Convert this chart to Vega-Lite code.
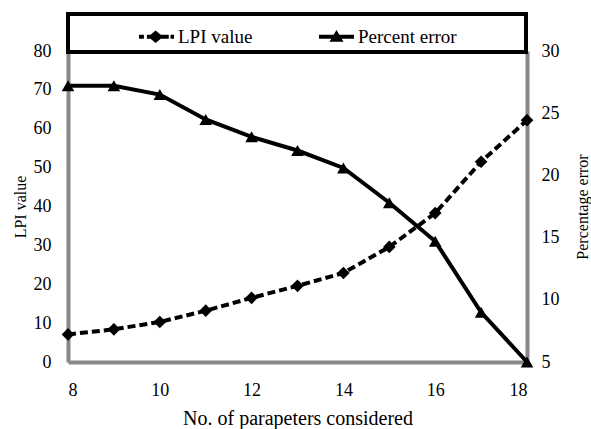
{
  "$schema": "https://vega.github.io/schema/vega-lite/v6.json",
  "width": 459,
  "height": 311,
  "autosize": {"type": "none"},
  "padding": {"left": 68, "top": 51, "right": 64, "bottom": 67},
  "background": "white",
  "config": {
    "view": {"stroke": null},
    "font": "Liberation Serif",
    "axis": {
      "grid": false,
      "ticks": false,
      "domainColor": "#888888",
      "domainWidth": 4,
      "labelFont": "Liberation Serif",
      "labelFontSize": 18,
      "labelColor": "black",
      "titleFont": "Liberation Serif",
      "titleFontWeight": "normal",
      "titleFontSize": 16,
      "titleColor": "black"
    }
  },
  "data": {
    "values": [
      {"n": 8, "series": "LPI value", "value": 7.1},
      {"n": 9, "series": "LPI value", "value": 8.4},
      {"n": 10, "series": "LPI value", "value": 10.3},
      {"n": 11, "series": "LPI value", "value": 13.2},
      {"n": 12, "series": "LPI value", "value": 16.5},
      {"n": 13, "series": "LPI value", "value": 19.6},
      {"n": 14, "series": "LPI value", "value": 22.9},
      {"n": 15, "series": "LPI value", "value": 29.6},
      {"n": 16, "series": "LPI value", "value": 38.3},
      {"n": 17, "series": "LPI value", "value": 51.5},
      {"n": 18, "series": "LPI value", "value": 62.2},
      {"n": 8, "series": "Percent error", "value": 27.2},
      {"n": 9, "series": "Percent error", "value": 27.2},
      {"n": 10, "series": "Percent error", "value": 26.5},
      {"n": 11, "series": "Percent error", "value": 24.5},
      {"n": 12, "series": "Percent error", "value": 23.1},
      {"n": 13, "series": "Percent error", "value": 22.0},
      {"n": 14, "series": "Percent error", "value": 20.6},
      {"n": 15, "series": "Percent error", "value": 17.8},
      {"n": 16, "series": "Percent error", "value": 14.7},
      {"n": 17, "series": "Percent error", "value": 9.0},
      {"n": 18, "series": "Percent error", "value": 5.0}
    ]
  },
  "encoding": {
    "x": {
      "field": "n",
      "type": "quantitative",
      "scale": {"domain": [8, 18], "nice": false, "zero": false},
      "axis": {
        "values": [8, 10, 12, 14, 16, 18],
        "title": "No. of parapeters considered",
        "titleFont": "Liberation Serif",
        "titleFontSize": 20,
        "labelFont": "Liberation Serif",
        "labelFontSize": 18,
        "labelPadding": 19,
        "titlePadding": 9,
        "labelAngle": 0
      }
    },
    "color": {
      "field": "series",
      "type": "nominal",
      "scale": {"domain": ["LPI value", "Percent error"], "range": ["black", "black"]},
      "legend": {
        "title": "\u00a0",
        "titleOrient": "right",
        "titlePadding": 64,
        "titleFontSize": 10,
        "orient": "none",
        "direction": "horizontal",
        "legendX": 0,
        "legendY": -37,
        "padding": 5,
        "strokeColor": "black",
        "fillColor": "white",
        "symbolSize": 1225,
        "symbolOffset": 66,
        "labelOffset": 4,
        "columnPadding": 0,
        "labelFont": "Liberation Serif",
        "labelFontSize": 19,
        "labelColor": "black",
        "encode": {
          "legend": {"update": {"strokeWidth": {"value": 4}}},
          "symbols": {
            "update": {
              "shape": {"signal": "datum.value == 'LPI value' ? 'M-1,-0.11H-0.72V0.11H-1Z M-0.55,-0.11H0.7V0.11H-0.55Z M0.8,-0.11H1V0.11H0.8Z M-0.05,-0.36L0.38,0L-0.05,0.36L-0.48,0Z' : 'M-1,-0.11H1V0.11H-1Z M0,-0.38L0.4,0.28H-0.4Z'"},
              "fill": {"value": "black"},
              "fillOpacity": {"value": 1},
              "strokeWidth": {"value": 0}
            }
          }
        }
      }
    }
  },
  "layer": [
    {
      "transform": [{"filter": "datum.series == 'LPI value'"}],
      "encoding": {
        "y": {
          "field": "value",
          "type": "quantitative",
          "scale": {"domain": [0, 80], "nice": false},
          "axis": {
            "orient": "left",
            "values": [0, 10, 20, 30, 40, 50, 60, 70, 80],
            "title": "LPI value",
            "labelFont": "Liberation Serif",
            "labelFontSize": 18,
            "titleFont": "Liberation Serif",
            "labelPadding": 17,
            "titlePadding": 5
          }
        }
      },
      "layer": [
        {"mark": {"type": "line", "strokeDash": [8, 4], "strokeWidth": 4}},
        {"mark": {"type": "point", "shape": "diamond", "filled": true, "size": 160, "opacity": 1}}
      ]
    },
    {
      "transform": [{"filter": "datum.series == 'Percent error'"}],
      "encoding": {
        "y": {
          "field": "value",
          "type": "quantitative",
          "scale": {"domain": [5, 30], "nice": false, "zero": false},
          "axis": {
            "orient": "right",
            "values": [5, 10, 15, 20, 25, 30],
            "title": "Percentage error",
            "titleAngle": -90,
            "labelFont": "Liberation Serif",
            "labelFontSize": 18,
            "titleFont": "Liberation Serif",
            "labelPadding": 14,
            "titlePadding": 31
          }
        }
      },
      "layer": [
        {"mark": {"type": "line", "strokeWidth": 4}},
        {"mark": {"type": "point", "shape": "triangle-up", "filled": true, "size": 160, "opacity": 1}}
      ]
    }
  ],
  "resolve": {"scale": {"y": "independent"}}
}
